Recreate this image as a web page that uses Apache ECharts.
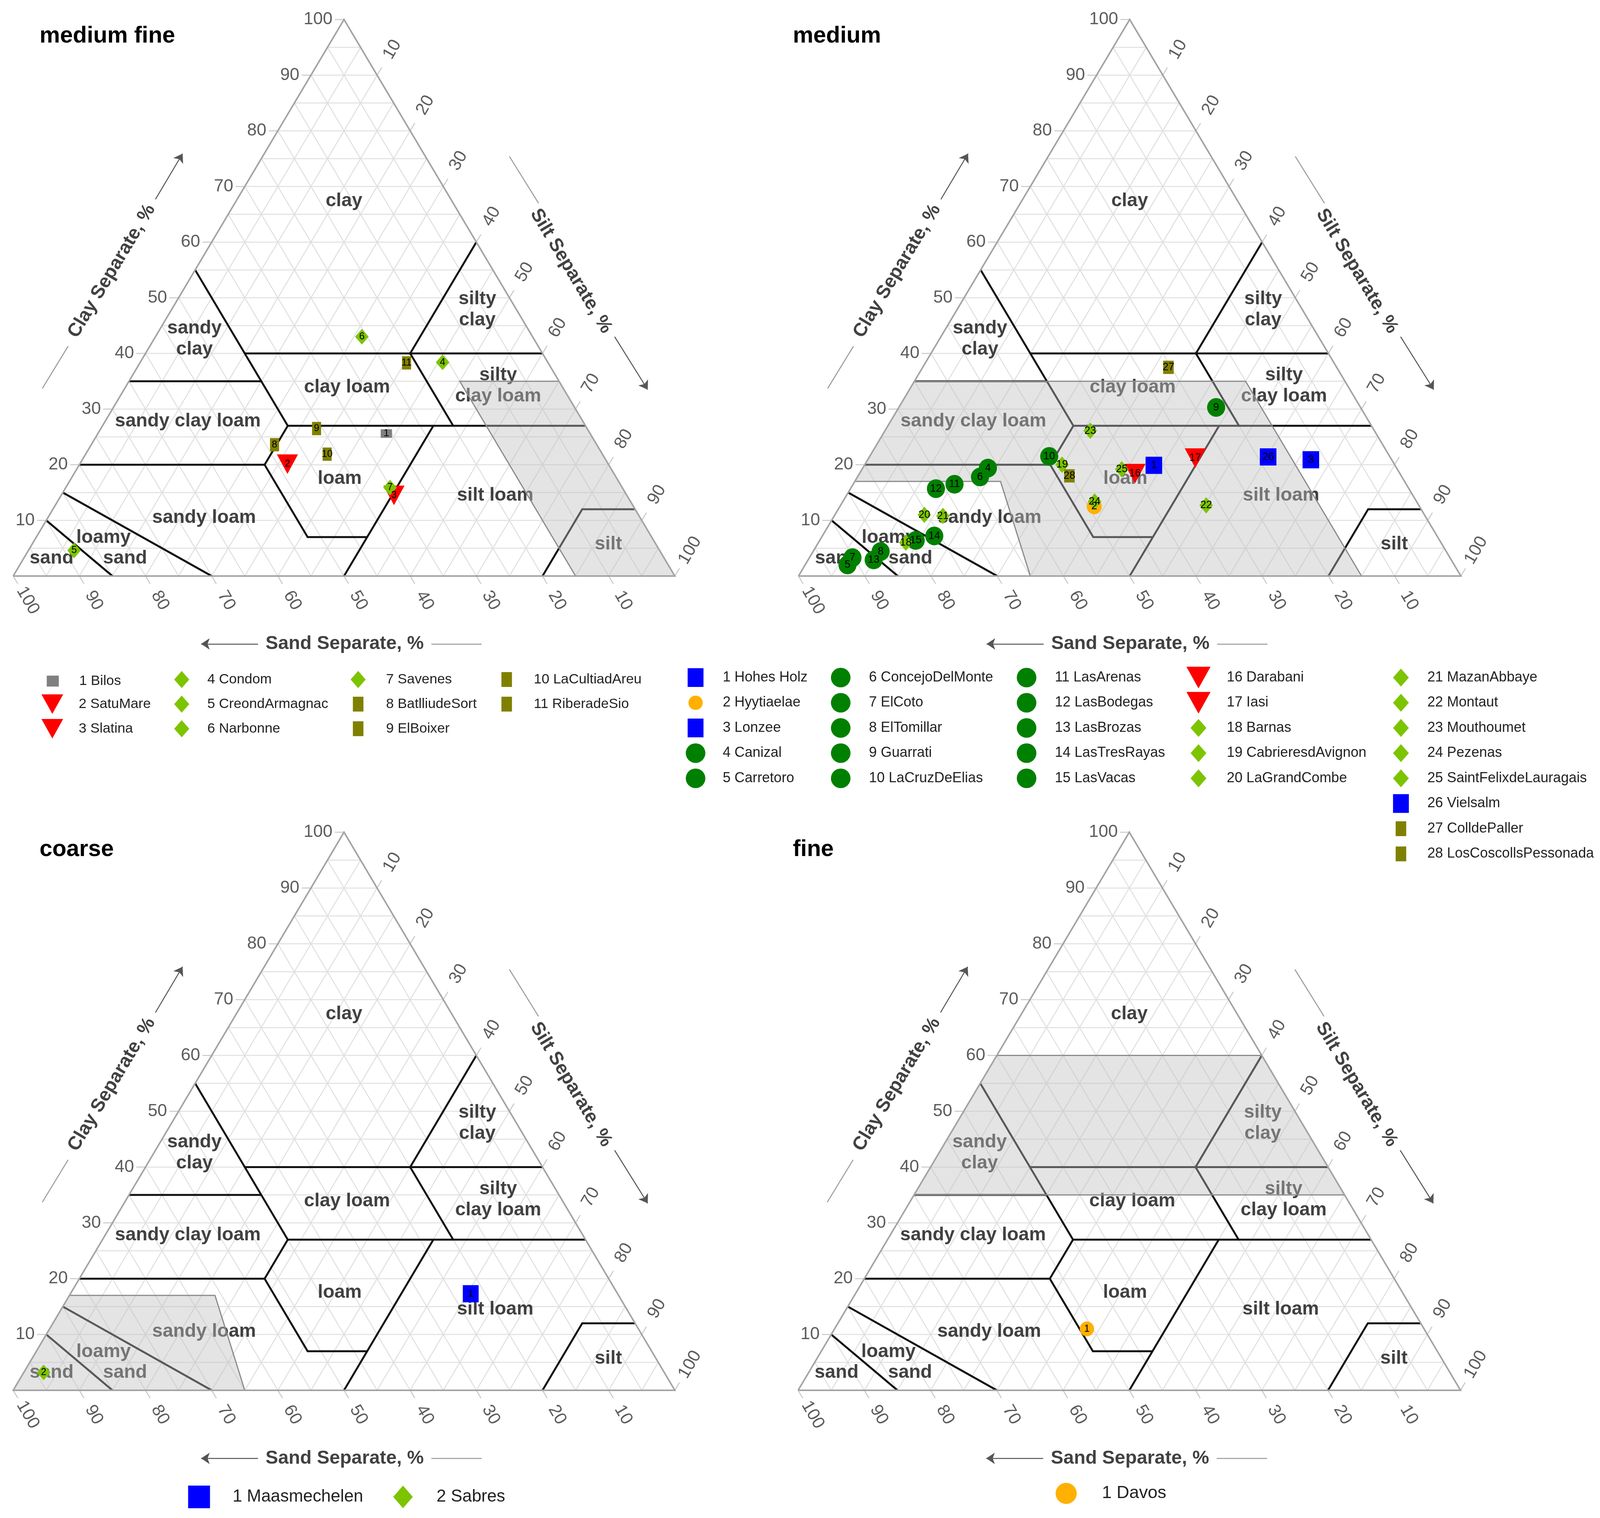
<!DOCTYPE html>
<html>
<head>
<meta charset="utf-8">
<title>Soil texture triangles</title>
<script src="https://cdn.jsdelivr.net/npm/echarts@6/dist/echarts.min.js"></script>
<style>
html,body{margin:0;padding:0;background:#ffffff;overflow:hidden;}
#chart{width:100vw;height:3887px;}
</style>
</head>
<body>
<div id="chart"></div>
<script>
// ================= DATA =================
const panelTitles = ['medium fine', 'medium', 'coarse', 'fine'];

// medium fine
const mediumFineNames = ['1 Bilos','2 SatuMare','3 Slatina','4 Condom','5 CreondArmagnac','6 Narbonne','7 Savenes','8 BatlliudeSort','9 ElBoixer','10 LaCultiadAreu','11 RiberadeSio'];
const mediumFineSand  = [30.8, 48.5, 35.2, 15.9, 88.5, 25.8, 35.1, 48.7, 40.9, 41.6, 21.4];
const mediumFineClay  = [25.6, 20.1, 14.5, 38.4, 4.6, 43.0, 15.9, 23.6, 26.5, 21.9, 38.3];
const mediumFineKinds = ['gray','red','red','lime','lime','lime','lime','olive','olive','olive','olive'];

// medium
const mediumNames = ['1 Hohes Holz','2 Hyytiaelae','3 Lonzee','4 Canizal','5 Carretoro','6 ConcejoDelMonte','7 ElCoto','8 ElTomillar','9 Guarrati','10 LaCruzDeElias','11 LasArenas','12 LasBodegas','13 LasBrozas','14 LasTresRayas','15 LasVacas','16 Darabani','17 Iasi','18 Barnas','19 CabrieresdAvignon','20 LaGrandCombe','21 MazanAbbaye','22 Montaut','23 Mouthoumet','24 Pezenas','25 SaintFelixdeLauragais','26 Vielsalm','27 ColldePaller','28 LosCoscollsPessonada'];
const mediumSand  = [36.4, 49.1, 12.2, 61.7, 91.6, 63.7, 90.2, 85.4, 21.8, 51.4, 68.2, 71.4, 87.2, 75.9, 79.1, 40.0, 29.5, 80.8, 50.2, 75.5, 72.8, 32.1, 42.9, 48.6, 41.6, 18.4, 25.4, 50.1];
const mediumClay  = [19.9, 12.5, 20.9, 19.4, 2.0, 17.8, 3.3, 4.4, 30.3, 21.5, 16.5, 15.7, 2.9, 7.2, 6.4, 18.4, 21.2, 6.0, 20.0, 11.0, 10.8, 12.7, 26.1, 13.4, 19.2, 21.4, 37.5, 18.0];
const mediumKinds = ['blue','orange','blue','dgreen','dgreen','dgreen','dgreen','dgreen','dgreen','dgreen','dgreen','dgreen','dgreen','dgreen','dgreen','red','red','lime','lime','lime','lime','lime','lime','lime','lime','blue','olive','olive'];

// coarse
const coarseNames = ['1 Maasmechelen','2 Sabres'];
const coarseSand  = [22.2, 93.8];
const coarseClay  = [17.3, 3.2];
const coarseKinds = ['blue','lime'];

// fine
const fineNames = ['1 Davos'];
const fineSand  = [50.9];
const fineClay  = [11.0];
const fineKinds = ['orange'];

// ticks (percent)
const tickValues = [10, 20, 30, 40, 50, 60, 70, 80, 90, 100];

// USDA texture class boundaries as polylines of [sand, clay]
const classBoundaries = [
  [[85, 0], [90, 10]],
  [[70, 0], [85, 15]],
  [[80, 20], [52, 20]],
  [[52, 20], [52, 7], [43, 7]],
  [[23, 27], [50, 0]],
  [[52, 20], [45, 27]],
  [[45, 27], [0, 27]],
  [[45, 27], [45, 55]],
  [[65, 35], [45, 35]],
  [[45, 40], [0, 40]],
  [[20, 27], [20, 40]],
  [[20, 40], [0, 60]],
  [[20, 0], [8, 12], [0, 12]]
];

// texture class label text and anchor [sand, clay]
const classLabelText = ['clay','sandy\nclay','silty\nclay','clay loam','silty\nclay loam','sandy clay loam','loam','silt loam','sandy loam','loamy','sand','sand','silt'];
const classLabelSand = [16.3, 51.3, 5.9, 32.6, 9.6, 59.7, 41.9, 19.9, 65.9, 82.9, 81.5, 92.6, 7.2];
const classLabelClay = [67.4, 42.6, 47.9, 33.9, 34.2, 27.8, 17.5, 14.5, 10.5, 6.9, 3.2, 3.2, 5.7];

// shaded texture-group ranges, polygons of [sand, clay]
const shadeMediumFine = [[15, 35], [0, 35], [0, 0], [15, 0]];
const shadeMedium     = [[65, 35], [15, 35], [15, 0], [65, 0], [61, 17], [83, 17]];
const shadeCoarse     = [[100, 0], [65, 0], [61, 17], [83, 17]];
const shadeFine       = [[40, 60], [0, 60], [0, 35], [65, 35]];

// ================= STYLE / LAYOUT =================
// layout is designed on a 4244 px wide canvas and stretched to the real page width
const PAGE_W = window.innerWidth || 4244;
const PAGE_H = 3887;
const SX = PAGE_W / 4244;
const px = v => v * SX;
const fs = v => Math.round(v * SX * 10) / 10;

const FONT = '"Liberation Sans", Arial, Helvetica, sans-serif';
const COLORS = {gray:'#808080', red:'#ff0000', lime:'#7dc400', olive:'#808000', blue:'#0000ff', orange:'#ffb000', dgreen:'#008000'};
const SYMBOLS = {gray:'rect', red:'path://M0,0L10,0L5,9Z', lime:'diamond', olive:'rect', blue:'rect', orange:'circle', dgreen:'circle'};

const panels = [
  {title: panelTitles[0], names: mediumFineNames, sand: mediumFineSand, clay: mediumFineClay, kinds: mediumFineKinds, shade: shadeMediumFine,
   grid: {left: 35, top: 50, width: 1755, height: 1425}, titlePos: [105, 63],
   plotSize: {gray:[30,22], red:[56,50], lime:[36,40], olive:[24,34]}, labelFont: 26,
   legSize: {gray:[32,28], red:[60,50], lime:[40,44], olive:[28,38]}, legFont: 37,
   legCols: [[0,1,2],[3,4,5],[6,7,8],[9,10]], legIconX: [140, 482, 950, 1344], legTextX: [210, 550, 1024, 1416], legRow0: 1740, legStep: 63},
  {title: panelTitles[1], names: mediumNames, sand: mediumSand, clay: mediumClay, kinds: mediumKinds, shade: shadeMedium,
   grid: {left: 2118, top: 50, width: 1757, height: 1425}, titlePos: [2103, 63],
   plotSize: {blue:[44,44], orange:[40,40], dgreen:[48,48], red:[56,50], lime:[36,42], olive:[28,34]}, labelFont: 28,
   legSize: {blue:[42,48], orange:[38,40], dgreen:[52,52], red:[64,56], lime:[42,46], olive:[28,38]}, legFont: 37.5,
   legCols: [[0,1,2,3,4],[5,6,7,8,9],[10,11,12,13,14],[15,16,17,18,19],[20,21,22,23,24,25,26,27]],
   legIconX: [1845, 2230, 2723, 3179, 3716], legTextX: [1917, 2305, 2798, 3254, 3786], legRow0: 1735, legStep: 64.5},
  {title: panelTitles[2], names: coarseNames, sand: coarseSand, clay: coarseClay, kinds: coarseKinds, shade: shadeCoarse,
   grid: {left: 35, top: 2131, width: 1755, height: 1429}, titlePos: [105, 2146],
   plotSize: {blue:[42,44], lime:[36,40]}, labelFont: 26,
   legSize: {blue:[58,58], lime:[52,58]}, legFont: 45.5,
   legCols: [[0],[1]], legIconX: [528, 1069], legTextX: [617, 1158], legRow0: 3833, legStep: 64},
  {title: panelTitles[3], names: fineNames, sand: fineSand, clay: fineClay, kinds: fineKinds, shade: shadeFine,
   grid: {left: 2117, top: 2131, width: 1757, height: 1429}, titlePos: [2103, 2146],
   plotSize: {orange:[38,38]}, labelFont: 26,
   legSize: {orange:[56,56]}, legFont: 46.5,
   legCols: [[0]], legIconX: [2828], legTextX: [2923], legRow0: 3824, legStep: 64}
];

// ternary (sand, clay) -> cartesian frame (0..100 along base, clay up)
function tx(sand, clay) { return [100 - sand - clay / 2, clay]; }

const grids = [], xAxes = [], yAxes = [], series = [], legends = [], titles = [];
const clear = {color: 'rgba(0,0,0,0)'};

panels.forEach((p, i) => {
  grids.push({left: px(p.grid.left), top: p.grid.top, width: px(p.grid.width), height: p.grid.height, containLabel: false});
  xAxes.push({type: 'value', gridIndex: i, min: 0, max: 100, show: false});
  yAxes.push({type: 'value', gridIndex: i, min: 0, max: 100, show: false});
  titles.push({text: p.title, left: px(p.titlePos[0]), top: p.titlePos[1], padding: 0,
    textStyle: {fontFamily: FONT, fontSize: fs(61), fontWeight: 'bold', color: '#000'}});
  const ax = {xAxisIndex: i, yAxisIndex: i};

  // fine grid lines every 5 %
  const gl = [];
  for (let v = 5; v < 100; v += 5) {
    gl.push({coords: [tx(100 - v, v), tx(0, v)]});
    gl.push({coords: [tx(v, 0), tx(v, 100 - v)]});
    gl.push({coords: [tx(100 - v, 0), tx(0, 100 - v)]});
  }
  series.push(Object.assign({type: 'lines', coordinateSystem: 'cartesian2d', polyline: true, clip: false, silent: true, z: 1,
    data: gl, lineStyle: {color: '#e0e0e0', width: 2.5, opacity: 1}}, ax));

  // tick marks
  const tk = [];
  tickValues.forEach(v => {
    tk.push({coords: [tx(100 - v, v), tx(100 - v + 1.4, v)]});
    tk.push({coords: [tx(v, 0), tx(v, -1.4)]});
    tk.push({coords: [tx(0, 100 - v), tx(-1.4, 100 - v + 1.4)]});
  });
  series.push(Object.assign({type: 'lines', coordinateSystem: 'cartesian2d', polyline: true, clip: false, silent: true, z: 1,
    data: tk, lineStyle: {color: '#c8c8c8', width: 2.5, opacity: 1}}, ax));

  // class boundaries
  series.push(Object.assign({type: 'lines', coordinateSystem: 'cartesian2d', polyline: true, clip: false, silent: true, z: 2,
    data: classBoundaries.map(b => ({coords: b.map(q => tx(q[0], q[1]))})),
    lineStyle: {color: '#111', width: 5, opacity: 1}}, ax));

  // class labels
  series.push(Object.assign({type: 'scatter', clip: false, silent: true, z: 3, symbolSize: 1, itemStyle: clear,
    data: classLabelText.map((t, k) => ({name: t, value: tx(classLabelSand[k], classLabelClay[k])})),
    label: {show: true, position: 'inside', formatter: '{b}', fontFamily: FONT, fontWeight: 'bold', fontSize: fs(50), lineHeight: 54, color: '#111', align: 'center'}}, ax));

  // shaded group range
  const poly = p.shade;
  series.push(Object.assign({type: 'custom', coordinateSystem: 'cartesian2d', clip: false, silent: true, z: 4, data: [[0, 0]],
    renderItem: (params, api) => ({type: 'polygon',
      shape: {points: poly.map(q => api.coord(tx(q[0], q[1])))},
      style: {fill: 'rgba(190,190,190,0.42)', stroke: '#8a8a8a', lineWidth: 3}})}, ax));

  // triangle outline
  series.push(Object.assign({type: 'lines', coordinateSystem: 'cartesian2d', polyline: true, clip: false, silent: true, z: 5,
    data: [{coords: [tx(100, 0), tx(0, 0), tx(0, 100), tx(100, 0)]}],
    lineStyle: {color: '#a4a4a4', width: 4, opacity: 1}}, ax));

  // tick labels
  const tickLabel = {show: true, fontFamily: FONT, fontSize: fs(46), color: '#333', formatter: '{b}'};
  series.push(Object.assign({type: 'scatter', clip: false, silent: true, z: 5, symbolSize: 1, itemStyle: clear,
    data: tickValues.map(v => ({name: String(v), value: tx(100 - v, v)})),
    label: Object.assign({position: 'left', distance: px(30)}, tickLabel)}, ax));
  series.push(Object.assign({type: 'scatter', clip: false, silent: true, z: 5, symbolSize: 1, itemStyle: clear,
    data: tickValues.map(v => ({name: String(v), value: tx(-4.6, 100 - v + 4.6)})),
    label: Object.assign({position: 'inside', rotate: 60}, tickLabel)}, ax));
  series.push(Object.assign({type: 'scatter', clip: false, silent: true, z: 5, symbolSize: 1, itemStyle: clear,
    data: tickValues.map(v => ({name: String(v), value: tx(v, -4.4)})),
    label: Object.assign({position: 'inside', rotate: -60}, tickLabel)}, ax));

  // axis titles (frame coordinates)
  const axTitle = {show: true, position: 'inside', fontFamily: FONT, fontWeight: 'bold', fontSize: fs(50), color: '#111', formatter: '{b}'};
  series.push(Object.assign({type: 'scatter', clip: false, silent: true, z: 5, symbolSize: 1, itemStyle: clear,
    data: [
      {name: 'Clay Separate, %', value: [14.9, 54.8], label: Object.assign({rotate: 59}, axTitle)},
      {name: 'Silt Separate, %', value: [84.3, 54.8], label: Object.assign({rotate: -59}, axTitle)},
      {name: 'Sand Separate, %', value: [50.1, -12.2], label: Object.assign({rotate: 0}, axTitle)}
    ]}, ax));
  series.push(Object.assign({type: 'lines', coordinateSystem: 'cartesian2d', clip: false, silent: true, z: 5,
    symbol: ['none', 'arrow'], symbolSize: 22,
    data: [
      {coords: [[21.5, 67.7], [25.6, 75.9]]},
      {coords: [[90.9, 43.0], [95.9, 33.5]]},
      {coords: [[37.0, -12.2], [28.4, -12.2]]}
    ], lineStyle: {color: '#555', width: 2.5, opacity: 1}}, ax));
  series.push(Object.assign({type: 'lines', coordinateSystem: 'cartesian2d', clip: false, silent: true, z: 5,
    data: [
      {coords: [[4.4, 33.7], [8.3, 41.3]]},
      {coords: [[75.0, 75.4], [79.4, 67.0]]},
      {coords: [[63.2, -12.2], [70.8, -12.2]]}
    ], lineStyle: {color: '#999', width: 2.5, opacity: 1}}, ax));

  // data points, one series per site
  p.names.forEach((nm, k) => {
    const kind = p.kinds[k];
    const sz = p.plotSize[kind];
    series.push(Object.assign({type: 'scatter', name: nm, clip: false, silent: true, z: 6,
      symbol: SYMBOLS[kind], symbolSize: [sz[0] * SX, sz[1]],
      itemStyle: {color: COLORS[kind], opacity: 1},
      data: [{value: tx(p.sand[k], p.clay[k])}],
      label: {show: true, position: 'inside', formatter: nm.split(' ')[0], fontFamily: FONT, fontSize: fs(p.labelFont), color: '#000'}}, ax));
  });

  // legend entries
  p.legCols.forEach((col, ci) => {
    col.forEach((idx, ri) => {
      const kind = p.kinds[idx];
      const sz = p.legSize[kind];
      const cy = p.legRow0 + ri * p.legStep;
      const w = sz[0] * SX;
      const iconX = px(p.legIconX[ci]);
      const pad = px(p.legTextX[ci]) - (iconX + w / 2) - 5;
      legends.push({show: true, orient: 'horizontal', left: iconX - w / 2, top: cy - sz[1] / 2,
        itemWidth: w, itemHeight: sz[1], padding: 0, itemGap: 0, selectedMode: false,
        data: [p.names[idx]],
        textStyle: {fontFamily: FONT, fontSize: fs(p.legFont), color: '#222', lineHeight: sz[1], padding: [0, 0, 0, pad]}});
    });
  });
});

const el = document.getElementById('chart');
el.style.width = PAGE_W + 'px';
const chart = echarts.init(el, null, {renderer: 'canvas', width: PAGE_W, height: PAGE_H});
chart.setOption({
  backgroundColor: '#ffffff',
  animation: false,
  title: titles,
  grid: grids,
  xAxis: xAxes,
  yAxis: yAxes,
  legend: legends,
  series: series
});
</script>
</body>
</html>
